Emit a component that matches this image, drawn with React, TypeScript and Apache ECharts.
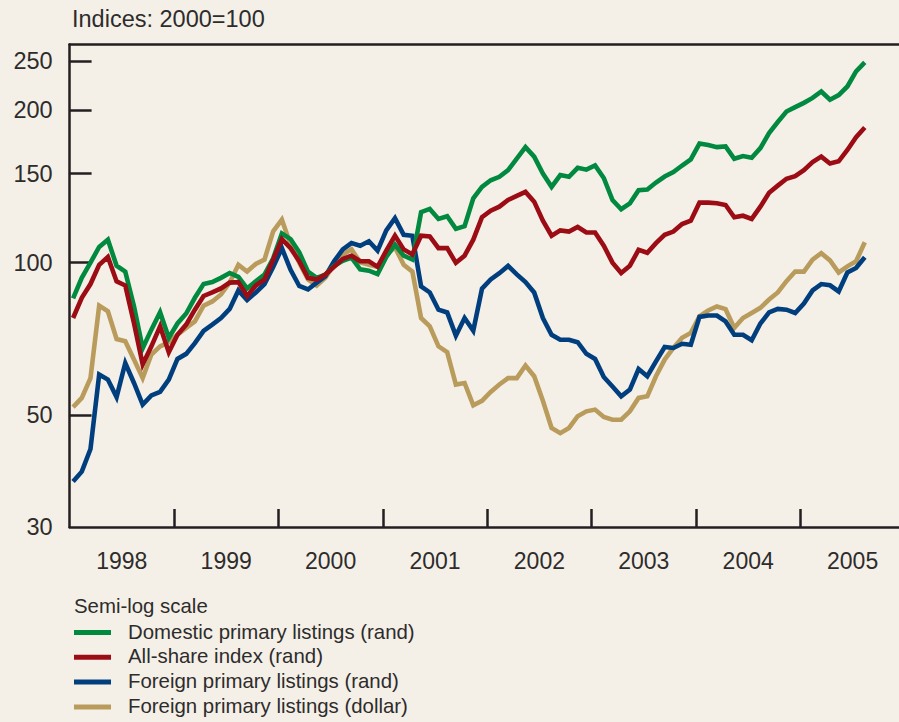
import React, { useEffect, useRef } from 'react';
import * as echarts from 'echarts';

// ---- data -------------------------------------------------------------
const START_YEAR = 1998;
const YEAR_LABELS = ['1998', '1999', '2000', '2001', '2002', '2003', '2004', '2005'];
const YEAR_TICKS = [1999, 2000, 2001, 2002, 2003, 2004, 2005];
const Y_LABELS = [30, 50, 100, 150, 200, 250];
const Y_TICKS = [50, 100, 150, 200, 250];
const SERIES_NAMES = [
  'Domestic primary listings (rand)',
  'All-share index (rand)',
  'Foreign primary listings (rand)',
  'Foreign primary listings (dollar)',
];

// monthly, Jan 1998 .. Aug 2005
const domestic = [
  85, 93.3, 100, 107.4, 111, 98.6, 96, 82, 67.7, 73.7, 79.8, 71,
  75.8, 79.3, 85.2, 90.7, 91.5, 93.3, 95.4, 93.7, 88.9, 91.8, 94.7, 102,
  114.2, 111.3, 104.8, 96, 93.3, 94.7, 98.5, 100.8, 102.3, 97, 96.4, 94.9,
  102.6, 108.5, 103.2, 101.4, 125.8, 127.7, 122, 123.5, 116.6, 118, 134, 141.2,
  145.5, 147.8, 152.4, 160.5, 169.2, 162, 150, 141.2, 149, 147.8, 154, 152.7,
  155.6, 147, 133, 127.5, 131, 139, 139.5, 144, 148, 151, 155.6, 160,
  172, 170.8, 169.2, 169.8, 160.5, 162.5, 161.2, 168.5, 180.4, 189.7, 199, 203,
  207, 211.7, 218, 210, 214.5, 223, 239, 249,
];
const allShare = [
  77.7, 85.2, 90.7, 99, 102.6, 91.8, 90.1, 75.9, 62.9, 68.3, 74.8, 66.5,
  72, 75.4, 80.7, 85.9, 87.3, 88.9, 91.3, 91.5, 85.9, 90.1, 92.6, 101.4,
  111.3, 106.8, 100.6, 93.3, 92.6, 94.7, 98.1, 101.7, 103.2, 100.6, 100.6, 98.1,
  105.6, 113, 106.2, 103.8, 113, 112.7, 106.8, 106.8, 99.9, 103.2, 111, 123,
  126.7, 129, 133, 135.5, 138, 132, 121, 113, 115.8, 115.2, 117.6, 114.7,
  114.7, 108, 100, 95.4, 98.6, 106, 104.6, 109.3, 113.5, 115.2, 119.2, 121,
  131.4, 131.4, 131, 130, 122.9, 123.8, 122, 129, 137.5, 142, 146.5, 148.2,
  152.4, 158, 162, 157, 158.6, 167, 177, 185,
];
const foreignRand = [
  36.9, 38.6, 42.8, 60.1, 58.7, 54.2, 63.3, 57.8, 52.4, 54.6, 55.5, 58.7,
  64.5, 66, 69.3, 73.3, 75.4, 77.7, 81, 88.1, 84.3, 87.3, 90.7, 98,
  106.8, 96.8, 89.9, 88.5, 91.3, 94, 100.6, 106.2, 109.3, 108, 110.2, 105.6,
  115.8, 122.4, 113.5, 113, 89.7, 87.3, 80.7, 79.7, 71.7, 77.7, 73.3, 88.8,
  92.6, 95.3, 98.5, 94.8, 91.5, 87.3, 77.7, 72, 70.4, 70.4, 69.6, 66,
  64.5, 59.4, 56.9, 54.4, 56.1, 61.6, 59.6, 63.8, 68.1, 67.8, 69.1, 68.8,
  78.1, 78.6, 78.6, 76.5, 72, 72, 70.2, 75.8, 79.7, 81, 80.7, 79.5,
  83, 88.1, 90.7, 90.2, 87.7, 95.6, 97.6, 102.5,
];
const foreignDollar = [
  51.8, 54, 59.1, 82.2, 80.1, 70.6, 69.9, 64.3, 59.1, 65.8, 68.3, 69.6,
  72, 74.3, 76.5, 82.2, 83.8, 86.5, 91.3, 99, 96, 99.4, 101.4, 115.3,
  121.6, 108.5, 99.9, 92.6, 90.1, 93.3, 99, 103.8, 106.2, 100.2, 99, 98.1,
  103.8, 107.2, 99, 96, 77.7, 74.8, 68.3, 66.5, 57.4, 57.8, 52.2, 53.3,
  55.5, 57.4, 59.1, 59.1, 62.6, 59.6, 53.3, 47.1, 46, 47.1, 49.7, 50.8,
  51.2, 49.5, 48.9, 48.9, 50.8, 54, 54.4, 59.6, 64.3, 67.8, 71, 72.6,
  78.3, 80.4, 81.9, 80.9, 74.3, 77.7, 79.5, 81.4, 84.5, 87.3, 91.9, 96,
  96, 101.4, 104.4, 101, 95.6, 98.3, 100.6, 109.7,
];

// ---- styling -----------------------------------------------------------
const W = 920;
const H = 722;
const BG = '#f4f0e8';
const INK = '#2e2c2b';
const AXIS = '#231f20';
const FONT = '"Liberation Sans", Arial, Helvetica, sans-serif';
const COLORS = ['#00893f', '#9b0c14', '#003e7e', '#b99b5c'];
const SERIES_DATA = [domestic, allShare, foreignRand, foreignDollar];
const DRAW_ORDER = [3, 2, 0, 1];

const monthPos = (i: number) => START_YEAR + (i + 0.4) / 12;

function buildOption() {
  const series = DRAW_ORDER.map((k) => ({
    name: SERIES_NAMES[k],
    type: 'line',
    data: SERIES_DATA[k].map((v, i) => [monthPos(i), v]),
    showSymbol: false,
    symbol: 'none',
    lineStyle: { color: COLORS[k], width: 4.6, join: 'miter' },
    itemStyle: { color: COLORS[k] },
    z: 2,
  }));

  const legendItems: any[] = [];
  SERIES_NAMES.forEach((name, i) => {
    const y = 631.5 + i * 24.8;
    legendItems.push({
      type: 'line',
      shape: { x1: 74, y1: y + 1, x2: 111, y2: y + 1 },
      style: { stroke: COLORS[i], lineWidth: 5 },
    });
    legendItems.push({
      type: 'text',
      x: 128,
      y,
      style: { text: name, fill: INK, fontSize: 20.4, fontFamily: FONT, verticalAlign: 'middle', align: 'left' },
    });
  });

  return {
    animation: false,
    backgroundColor: BG,
    grid: { left: 69.6, top: 44.5, right: W - 904.8, bottom: H - 527, containLabel: false },
    xAxis: [
      {
        type: 'value',
        min: 1998,
        max: 2006,
        position: 'bottom',
        axisLine: { show: true, onZero: false, lineStyle: { color: AXIS, width: 2.5 } },
        axisTick: {
          show: true,
          inside: true,
          length: 18,
          customValues: YEAR_TICKS,
          lineStyle: { color: AXIS, width: 2.5 },
        },
        axisLabel: {
          show: true,
          customValues: YEAR_LABELS.map((_, i) => START_YEAR + i + 0.5),
          formatter: (v: number) => YEAR_LABELS[Math.floor(v) - START_YEAR],
          color: INK,
          fontSize: 23,
          fontFamily: FONT,
          margin: 22,
        },
        splitLine: { show: false },
      },
      {
        type: 'value',
        min: 1998,
        max: 2006,
        position: 'top',
        axisLine: { show: true, onZero: false, lineStyle: { color: AXIS, width: 2.5 } },
        axisTick: { show: false },
        axisLabel: { show: false },
        splitLine: { show: false },
      },
    ],
    yAxis: {
      type: 'log',
      logBase: 10,
      min: 30,
      max: 270,
      axisLine: { show: true, onZero: false, lineStyle: { color: AXIS, width: 2.5 } },
      axisTick: {
        show: true,
        inside: true,
        length: 22,
        customValues: Y_TICKS,
        lineStyle: { color: AXIS, width: 2.5 },
      },
      axisLabel: {
        show: true,
        customValues: Y_LABELS,
        formatter: (v: number) => String(Math.round(v)),
        color: INK,
        fontSize: 23.5,
        fontFamily: FONT,
        margin: 17,
      },
      splitLine: { show: false },
    },
    graphic: [
      {
        type: 'text',
        x: 72,
        y: 19,
        style: { text: 'Indices: 2000=100', fill: INK, fontSize: 23.5, fontFamily: FONT, verticalAlign: 'middle', align: 'left' },
      },
      {
        type: 'text',
        x: 74,
        y: 605.7,
        style: { text: 'Semi-log scale', fill: INK, fontSize: 20.4, fontFamily: FONT, verticalAlign: 'middle', align: 'left' },
      },
      ...legendItems,
    ],
    series,
  };
}

export default function App() {
  const ref = useRef<HTMLDivElement>(null);
  useEffect(() => {
    document.body.style.margin = '0';
    document.body.style.background = BG;
    const chart = echarts.init(ref.current as HTMLDivElement, null, { renderer: 'svg', width: W, height: H });
    chart.setOption(buildOption() as any);
    return () => chart.dispose();
  }, []);
  return (
    <div style={{ position: 'fixed', left: 0, top: 0, width: 899, height: H, overflow: 'hidden', background: BG }}>
      <div ref={ref} style={{ width: W, height: H }} />
    </div>
  );
}
